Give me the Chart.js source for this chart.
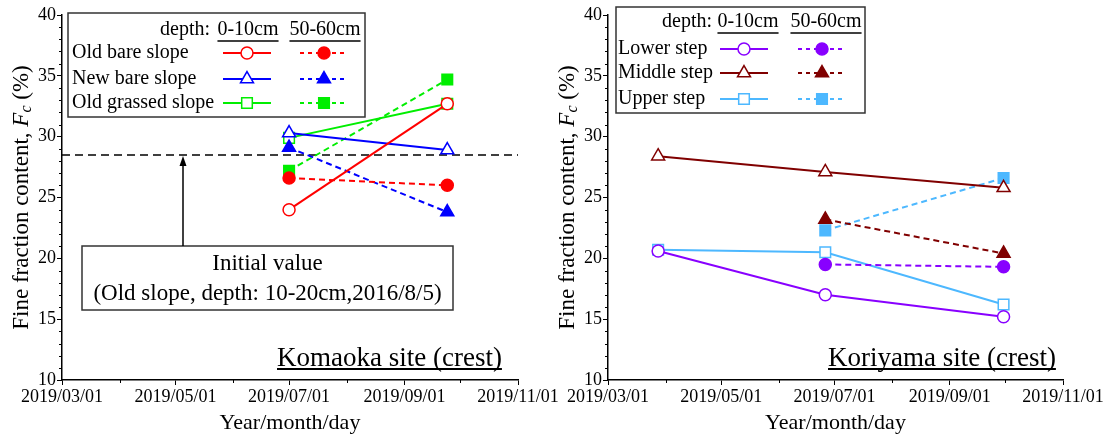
<!DOCTYPE html>
<html>
<head>
<meta charset="utf-8">
<script src="https://cdn.jsdelivr.net/npm/chart.js@4.4.1/dist/chart.umd.min.js"></script>
<style>
  body { margin: 0; background: #fff; }
  #wrap { position: relative; width: 1111px; height: 438px; overflow: hidden; }
  canvas { position: absolute; top: 0; }
  #komaoka { left: 0; }
  #koriyama { left: 530px; }
</style>
</head>
<body>
<div id="wrap">
  <canvas id="komaoka" width="600" height="438"></canvas>
  <canvas id="koriyama" width="581" height="438"></canvas>
</div>
<script>
// axis dates
const dateTicks = ['2019/03/01', '2019/05/01', '2019/07/01', '2019/09/01', '2019/11/01'];
const minorDates = ['2019/04/01', '2019/06/01', '2019/08/01', '2019/10/01'];

// Komaoka site, Fc (%) at 0-10cm and 50-60cm
const komaokaDates = ['2019/07/01', '2019/09/24'];
const oldBareTop = [24.0, 32.7];
const oldBareDeep = [26.6, 26.0];
const newBareTop = [30.3, 28.9];
const newBareDeep = [29.1, 23.8];
const oldGrassTop = [29.9, 32.7];
const oldGrassDeep = [27.2, 34.7];
const initialValue = 28.5;

// Koriyama site
const koriyamaDates = ['2019/03/28', '2019/06/26', '2019/09/30'];
const lowerTop = [20.6, 17.0, 15.2];
const lowerDeep = [null, 19.5, 19.3];
const middleTop = [28.4, 27.1, 25.8];
const middleDeep = [null, 23.2, 20.4];
const upperTop = [20.7, 20.5, 16.2];
const upperDeep = [null, 22.3, 26.6];

const FONT = '"Liberation Serif", "Times New Roman", serif';
Chart.defaults.font.family = FONT;
Chart.defaults.color = '#000';

function dayOf(s) {
  const [y, m, d] = s.split('/').map(Number);
  return (Date.UTC(y, m - 1, d) - Date.UTC(2019, 2, 1)) / 86400000;
}

function toPoints(dates, values) {
  return dates.map((d, i) => ({ x: dayOf(d), y: values[i] })).filter(p => p.y !== null);
}

function series(label, color, style, radius, dates, values, deep) {
  return {
    label: label,
    data: toPoints(dates, values),
    borderColor: color,
    borderWidth: 2,
    borderDash: deep ? [6, 4] : [],
    pointStyle: style,
    pointRadius: radius,
    pointBorderWidth: 1.5,
    pointBorderColor: color,
    pointBackgroundColor: deep ? color : '#fff',
    tension: 0
  };
}

function drawYTitle(ctx, x, y) {
  const parts = [
    { t: 'Fine fraction content, ', f: '23px ' + FONT, dy: 0 },
    { t: 'F', f: 'italic 23px ' + FONT, dy: 0 },
    { t: 'c', f: 'italic 16px ' + FONT, dy: 5 },
    { t: ' (%)', f: '23px ' + FONT, dy: 0 }
  ];
  ctx.save();
  ctx.translate(x, y);
  ctx.rotate(-Math.PI / 2);
  let total = 0;
  parts.forEach(p => { ctx.font = p.f; p.w = ctx.measureText(p.t).width; total += p.w; });
  let cx = -total / 2;
  ctx.textBaseline = 'middle';
  ctx.textAlign = 'left';
  ctx.fillStyle = '#000';
  parts.forEach(p => { ctx.font = p.f; ctx.fillText(p.t, cx, p.dy); cx += p.w; });
  ctx.restore();
}

function drawLegend(ctx, chart, area, lg) {
  const x0 = area.left + lg.x, y0 = area.top + lg.y;
  ctx.fillStyle = '#fff';
  ctx.fillRect(x0, y0, lg.w, lg.h);
  ctx.strokeStyle = '#333';
  ctx.lineWidth = 1.5;
  ctx.strokeRect(x0, y0, lg.w, lg.h);

  ctx.font = '20px ' + FONT;
  ctx.fillStyle = '#000';
  ctx.textBaseline = 'middle';
  ctx.textAlign = 'right';
  ctx.fillText('depth:', x0 + lg.depthX, y0 + lg.headY);
  ctx.textAlign = 'center';
  ['0-10cm', '50-60cm'].forEach((t, j) => {
    const cx = x0 + lg.cols[j] + lg.headShift[j];
    const w = ctx.measureText(t).width;
    ctx.fillText(t, cx, y0 + lg.headY);
    ctx.strokeStyle = '#000';
    ctx.lineWidth = 1.5;
    ctx.beginPath();
    ctx.moveTo(cx - w / 2, y0 + lg.headY + 11);
    ctx.lineTo(cx + w / 2, y0 + lg.headY + 11);
    ctx.stroke();
  });

  lg.rows.forEach((name, i) => {
    const y = y0 + lg.rowY[i];
    ctx.fillStyle = '#000';
    ctx.textAlign = 'left';
    ctx.fillText(name, x0 + lg.textX, y);
    [0, 1].forEach(j => {
      const ds = chart.data.datasets[2 * i + j];
      const cx = x0 + lg.cols[j];
      ctx.strokeStyle = ds.borderColor;
      ctx.lineWidth = 2;
      ctx.setLineDash(j ? [4, 4] : []);
      ctx.beginPath();
      ctx.moveTo(cx - 24, y);
      ctx.lineTo(cx + 24, y);
      ctx.stroke();
      ctx.setLineDash([]);
      ctx.fillStyle = ds.pointBackgroundColor;
      ctx.strokeStyle = ds.pointBorderColor;
      ctx.lineWidth = ds.pointBorderWidth;
      Chart.helpers.drawPoint(ctx, {
        pointStyle: ds.pointStyle, radius: ds.pointRadius, rotation: 0, borderWidth: ds.pointBorderWidth
      }, cx, y);
    });
  });
}

// minor ticks, initial-value note, legend, site name and y title
const siteDeco = {
  id: 'siteDeco',
  afterDatasetsDraw(chart, args, opts) {
    const { ctx, chartArea: area } = chart;
    const xS = chart.scales.x, yS = chart.scales.y;
    ctx.save();
    ctx.strokeStyle = '#000';
    ctx.lineWidth = 1;
    for (let v = 10; v <= 40; v++) {
      if (v % 5 === 0) continue;
      const py = Math.round(yS.getPixelForValue(v)) + 0.5;
      ctx.beginPath(); ctx.moveTo(area.left - 3, py); ctx.lineTo(area.left, py); ctx.stroke();
    }
    minorDates.forEach(d => {
      const px = Math.round(xS.getPixelForValue(dayOf(d))) + 0.5;
      ctx.beginPath(); ctx.moveTo(px, area.bottom); ctx.lineTo(px, area.bottom + 3); ctx.stroke();
    });

    if (opts.note) {
      const lineY = yS.getPixelForValue(initialValue);
      const bx = area.left + 20, by = area.top + 231, bw = 371, bh = 64;
      const ax = area.left + 121;
      ctx.fillStyle = '#fff';
      ctx.fillRect(bx, by, bw, bh);
      ctx.strokeStyle = '#333';
      ctx.lineWidth = 1.5;
      ctx.strokeRect(bx, by, bw, bh);
      ctx.strokeStyle = '#000';
      ctx.beginPath(); ctx.moveTo(ax, by); ctx.lineTo(ax, lineY + 8); ctx.stroke();
      ctx.fillStyle = '#000';
      ctx.beginPath();
      ctx.moveTo(ax, lineY + 1); ctx.lineTo(ax - 3.5, lineY + 11); ctx.lineTo(ax + 3.5, lineY + 11);
      ctx.closePath(); ctx.fill();
      ctx.font = '23px ' + FONT;
      ctx.textAlign = 'center';
      ctx.textBaseline = 'middle';
      ctx.fillText('Initial value', bx + bw / 2, by + 18);
      ctx.fillText('(Old slope, depth: 10-20cm,2016/8/5)', bx + bw / 2, by + 48);
    }

    drawLegend(ctx, chart, area, opts.legend);

    ctx.font = '27px ' + FONT;
    ctx.fillStyle = '#000';
    ctx.strokeStyle = '#000';
    ctx.textAlign = 'left';
    ctx.textBaseline = 'alphabetic';
    const sx = area.left + opts.siteX, sy = area.bottom - 14;
    ctx.fillText(opts.site, sx, sy);
    const sw = ctx.measureText(opts.site).width;
    ctx.lineWidth = 2;
    ctx.beginPath(); ctx.moveTo(sx, sy + 3); ctx.lineTo(sx + sw, sy + 3); ctx.stroke();

    drawYTitle(ctx, area.left - 40, (area.top + area.bottom) / 2);
    ctx.restore();
  }
};

function buildOptions(deco, axisWidth, padRight) {
  const tickFont = { family: FONT, size: 18 };
  return {
    responsive: false,
    animation: false,
    layout: { padding: { top: 15, right: padRight, left: 0, bottom: 0 } },
    plugins: { legend: { display: false }, tooltip: { enabled: false }, siteDeco: deco },
    scales: {
      x: {
        type: 'linear',
        min: 0,
        max: dayOf('2019/11/01'),
        afterBuildTicks: s => { s.ticks = dateTicks.map(d => ({ value: dayOf(d) })); },
        ticks: { callback: (v, i) => dateTicks[i], font: tickFont, color: '#000', maxRotation: 0, autoSkip: false, padding: 1 },
        grid: { drawOnChartArea: false, tickLength: 5, tickColor: '#000' },
        border: { color: '#000', width: 1.5 },
        title: { display: true, text: 'Year/month/day', font: { family: FONT, size: 22 }, color: '#000', padding: { top: 0, bottom: 2 } },
        afterFit: s => { s.height = 58; }
      },
      y: {
        min: 10,
        max: 40,
        ticks: { stepSize: 5, font: tickFont, color: '#000', padding: 1 },
        grid: { drawOnChartArea: false, tickLength: 5, tickColor: '#000' },
        border: { color: '#000', width: 1.5 },
        afterFit: s => { s.width = axisWidth; }
      }
    }
  };
}

const initialLine = {
  label: 'Initial value',
  data: [{ x: 0, y: initialValue }, { x: dayOf('2019/11/01'), y: initialValue }],
  borderColor: '#000',
  borderWidth: 1.5,
  borderDash: [8, 5],
  pointRadius: 0
};

new Chart(document.getElementById('komaoka'), {
  type: 'line',
  data: {
    datasets: [
      series('Old bare slope', '#ff0000', 'circle', 6, komaokaDates, oldBareTop, false),
      series('Old bare slope', '#ff0000', 'circle', 6, komaokaDates, oldBareDeep, true),
      series('New bare slope', '#0000ff', 'triangle', 7.5, komaokaDates, newBareTop, false),
      series('New bare slope', '#0000ff', 'triangle', 7.5, komaokaDates, newBareDeep, true),
      series('Old grassed slope', '#00ee00', 'rect', 7.5, komaokaDates, oldGrassTop, false),
      series('Old grassed slope', '#00ee00', 'rect', 7.5, komaokaDates, oldGrassDeep, true),
      initialLine
    ]
  },
  options: buildOptions({
    site: 'Komaoka site (crest)', siteX: 215, note: true,
    legend: {
      x: 6, y: -2, w: 297, h: 104, depthX: 142, headY: 17, headShift: [1, 1],
      cols: [179, 256], rowY: [40, 66, 90], textX: 4,
      rows: ['Old bare slope', 'New bare slope', 'Old grassed slope']
    }
  }, 62, 82),
  plugins: [siteDeco]
});

new Chart(document.getElementById('koriyama'), {
  type: 'line',
  data: {
    datasets: [
      series('Lower step', '#8800ff', 'circle', 6, koriyamaDates, lowerTop, false),
      series('Lower step', '#8800ff', 'circle', 6, koriyamaDates, lowerDeep, true),
      series('Middle step', '#800000', 'triangle', 7.5, koriyamaDates, middleTop, false),
      series('Middle step', '#800000', 'triangle', 7.5, koriyamaDates, middleDeep, true),
      series('Upper step', '#4db8ff', 'rect', 7.5, koriyamaDates, upperTop, false),
      series('Upper step', '#4db8ff', 'rect', 7.5, koriyamaDates, upperDeep, true)
    ]
  },
  options: buildOptions({
    site: 'Koriyama site (crest)', siteX: 220, note: false,
    legend: {
      x: 8, y: -8, w: 249, h: 106, depthX: 96, headY: 15, headShift: [4, 4],
      cols: [128, 206], rowY: [42, 66, 92], textX: 2,
      rows: ['Lower step', 'Middle step', 'Upper step']
    }
  }, 78, 48),
  plugins: [siteDeco]
});
</script>
</body>
</html>
